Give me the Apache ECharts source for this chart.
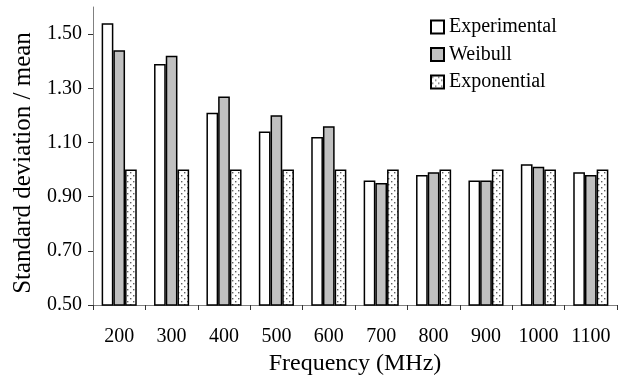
<!DOCTYPE html>
<html>
<head>
<meta charset="utf-8">
<script src="https://cdn.jsdelivr.net/npm/echarts@6/dist/echarts.min.js"></script>
<style>html,body{margin:0;padding:0;background:#fff}#c{width:633px;height:376px}</style>
</head>
<body>
<div id="c"></div>
<script>
var categories = ['200','300','400','500','600','700','800','900','1000','1100'];
var experimental = [1.54,1.39,1.21,1.14,1.12,0.96,0.98,0.96,1.02,0.99];
var weibull      = [1.44,1.42,1.27,1.20,1.16,0.95,0.99,0.96,1.01,0.98];
var exponential  = [1.00,1.00,1.00,1.00,1.00,1.00,1.00,1.00,1.00,1.00];
var seriesNames = ['Experimental','Weibull','Exponential'];

var pc = document.createElement('canvas');
pc.width = 6; pc.height = 6;
var g = pc.getContext('2d');
g.fillStyle = '#ffffff'; g.fillRect(0,0,6,6);
g.fillStyle = '#606060';
g.fillRect(1,1,1.4,1.4);
g.fillRect(4,4,1.4,1.4);

var FONT = '"Liberation Serif","Times New Roman",serif';
var chart = echarts.init(document.getElementById('c'));
function bar(name, data, color){
  return {name:name, type:'bar', data:data, barGap:'0%', barCategoryGap:'33%',
    itemStyle:{color:color, borderColor:'#000', borderWidth:1.5}};
}
chart.setOption({
  animation:false,
  textStyle:{fontFamily:FONT},
  grid:{left:93, right:16, top:7, bottom:71, containLabel:false, outerBoundsMode:'none'},
  legend:{orient:'vertical', left:425, top:12, itemWidth:13, itemHeight:13, itemGap:7.5,
    icon:'rect', textStyle:{fontFamily:FONT, fontSize:20, color:'#000'},
    data:seriesNames},
  xAxis:{type:'category', data:categories,
    name:'Frequency (MHz)', nameLocation:'middle', nameGap:47,
    nameTextStyle:{fontFamily:FONT, fontSize:24, color:'#000'},
    axisLine:{lineStyle:{color:'#808080', width:1}},
    axisTick:{show:true, alignWithLabel:false, length:5, lineStyle:{color:'#333'}},
    axisLabel:{fontFamily:FONT, fontSize:20, color:'#000', margin:22, interval:0}},
  yAxis:{type:'value', min:0.5, max:1.6, interval:0.2,
    name:'Standard deviation / mean', nameLocation:'middle', nameGap:57,
    nameTextStyle:{fontFamily:FONT, fontSize:25, color:'#000', padding:[0,14,0,0]},
    axisLine:{show:true, lineStyle:{color:'#808080', width:1}},
    axisTick:{show:true, length:5, inside:false, lineStyle:{color:'#333'}},
    splitLine:{show:false},
    axisLabel:{fontFamily:FONT, fontSize:20, color:'#000', margin:11, showMaxLabel:false,
      formatter:function(v){return v.toFixed(2);}}},
  series:[
    bar(seriesNames[0], experimental, '#ffffff'),
    bar(seriesNames[1], weibull, '#c0c0c0'),
    bar(seriesNames[2], exponential, {image:pc, repeat:'repeat'})
  ]
});
</script>
</body>
</html>
